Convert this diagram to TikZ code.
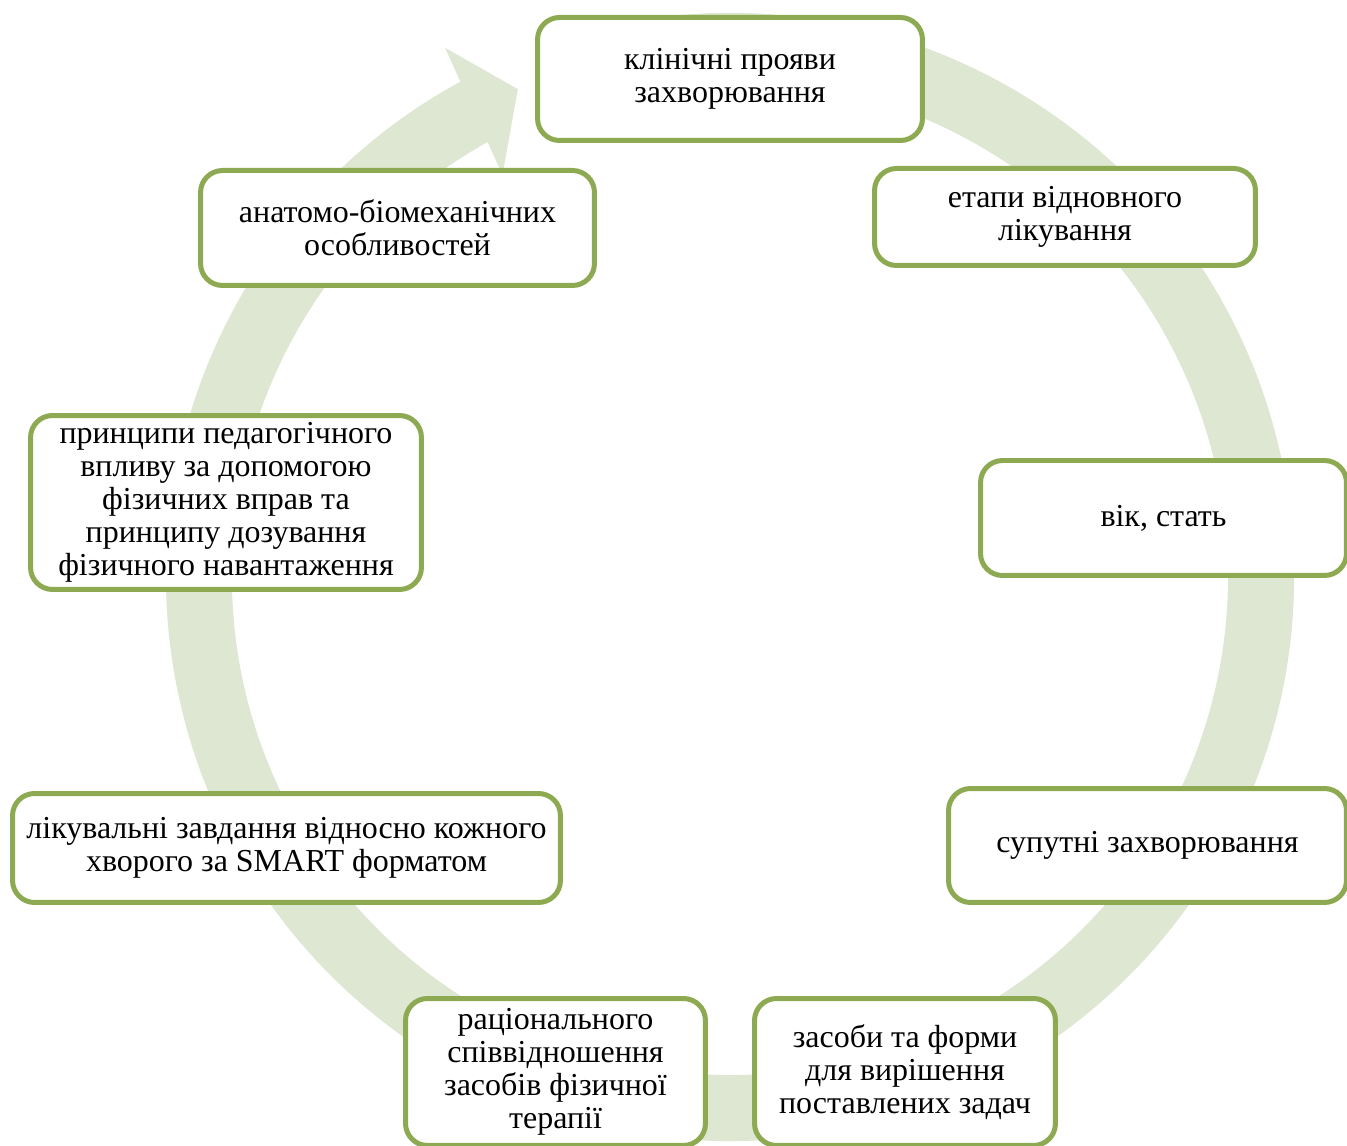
\documentclass[tikz,border=0pt]{standalone}
\usepackage{fontspec}
\setmainfont{Liberation Serif}
\usepackage{xcolor}
\usetikzlibrary{calc}
\definecolor{ringgreen}{RGB}{222,231,210}
\definecolor{boxgreen}{RGB}{141,170,82}

\begin{document}
\begin{tikzpicture}[
x=0.02cm, y=0.02cm,
box/.style={rectangle, rounded corners=0.44cm, draw=boxgreen, line width=0.1cm, fill=white, align=center, inner sep=2pt, font=\fontsize{18.2}{18.7}\selectfont}]
\useasboundingbox (0,0) rectangle (1347,1146);
\coordinate (c) at (730,569);
% circular arrow
\fill[ringgreen] ($(c)+(105:564)$) arc[start angle=105, end angle=-242.5, radius=564]
  -- ($(c)+(-242.5:498)$) arc[start angle=-242.5, end angle=105, radius=498] -- cycle;
\fill[ringgreen] ($(c)+(118.3:601)$) -- ($(c)+(113.5:532)$) -- ($(c)+(119.5:462)$) -- cycle;

\node[box, minimum width=7.7cm, minimum height=2.46cm] (clin) at (730,1067) {клінічні прояви\\захворювання};
\node[box, minimum width=7.62cm, minimum height=1.94cm] (etap) at (1065,929) {етапи відновного\\лікування};
\node[box, minimum width=7.32cm, minimum height=2.3cm] (vik) at (1163.5,628) {вік, стать};
\node[box, minimum width=7.96cm, minimum height=2.28cm] (sup) at (1147.5,300.5) {супутні захворювання};
\node[box, minimum width=6.02cm, minimum height=2.94cm] (zas) at (905,74) {засоби та форми\\для вирішення\\поставлених задач};
\node[box, minimum width=6cm, minimum height=2.94cm] (rac) at (555.5,74) {раціонального\\співвідношення\\засобів фізичної\\терапії};
\node[box, minimum width=10.96cm, minimum height=2.18cm] (likz) at (286.5,298) {лікувальні завдання відносно кожного\\хворого за SMART форматом};
\node[box, minimum width=7.82cm, minimum height=3.48cm] (princ) at (226,643.5) {принципи педагогічного\\впливу за допомогою\\фізичних вправ та\\принципу дозування\\фізичного навантаження};
\node[box, minimum width=7.88cm, minimum height=2.3cm] (anat) at (397.5,918) {анатомо-біомеханічних\\особливостей};
\end{tikzpicture}
\end{document}
